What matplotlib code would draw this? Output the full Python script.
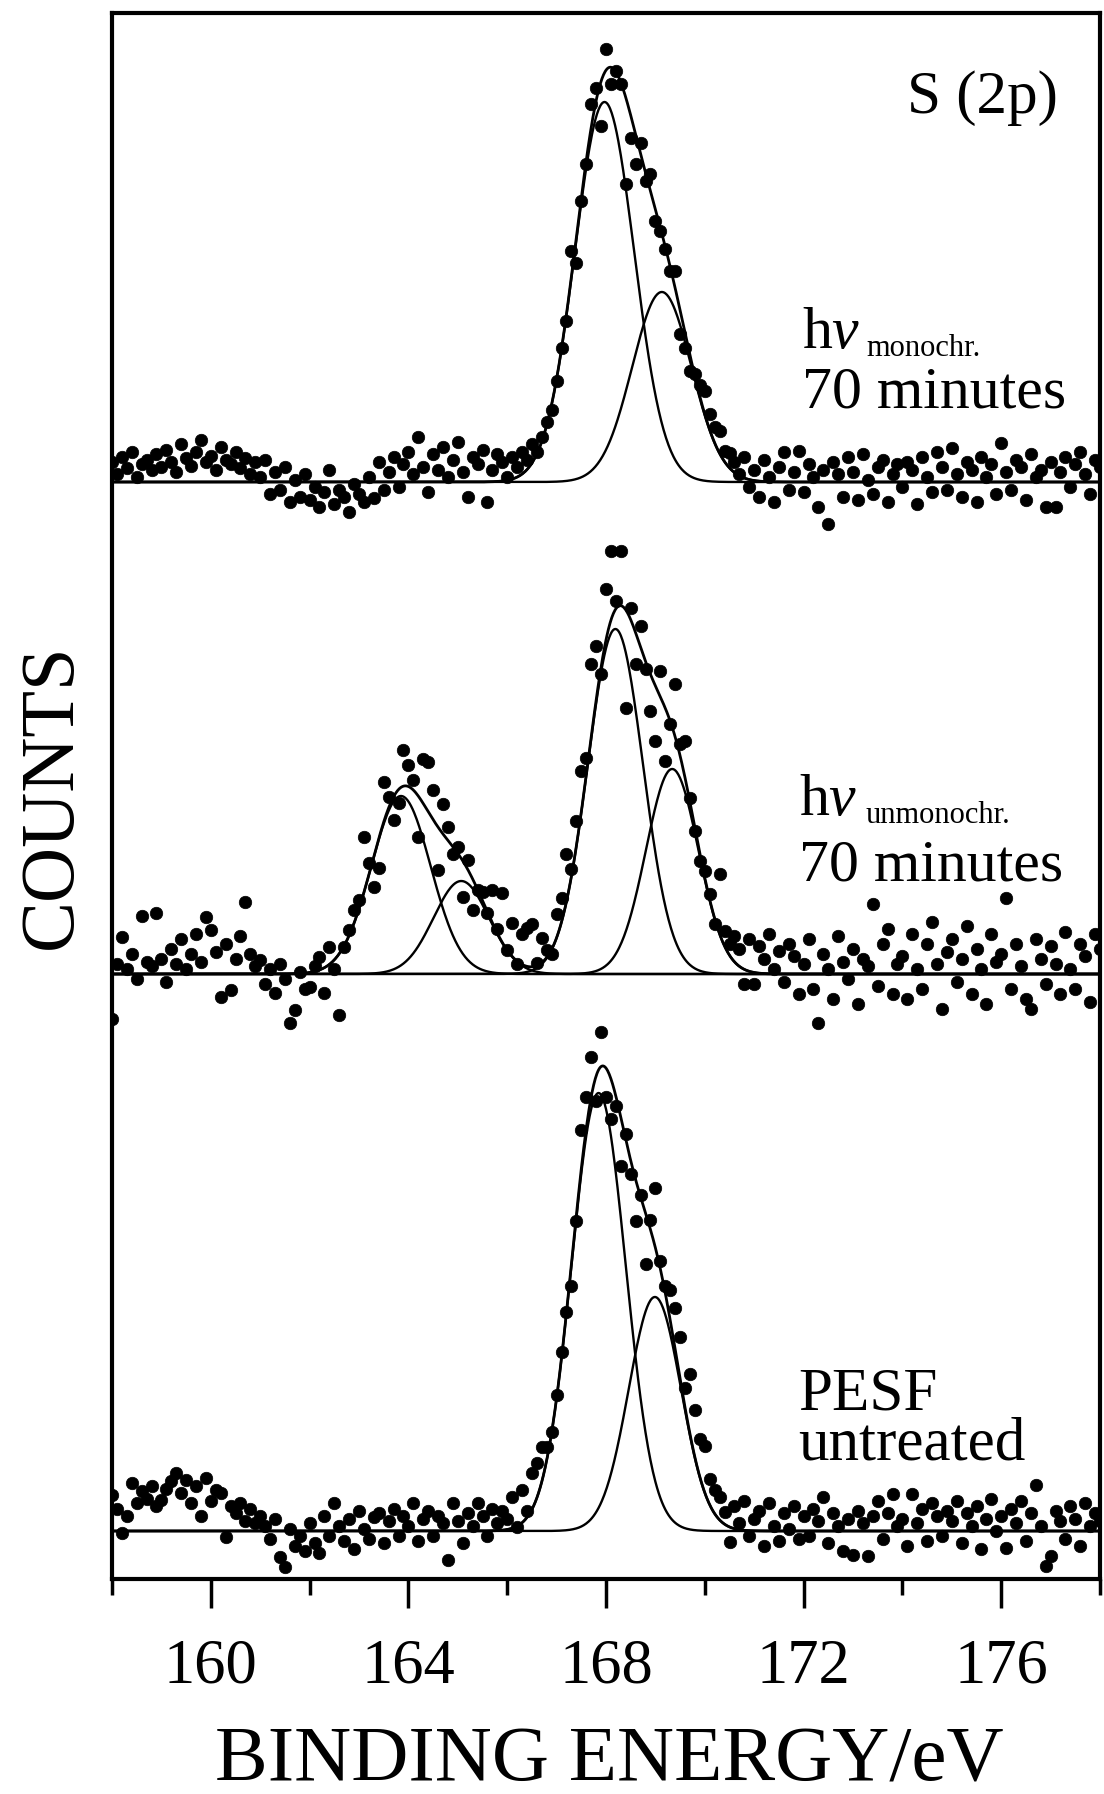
import numpy as np
import matplotlib
matplotlib.use("Agg")
import matplotlib.pyplot as plt
from matplotlib.ticker import MultipleLocator

plt.rcParams['font.family'] = ['Liberation Serif', 'DejaVu Serif']
plt.rcParams['mathtext.fontset'] = 'custom'
plt.rcParams['mathtext.rm'] = 'Liberation Serif'
plt.rcParams['mathtext.it'] = 'Liberation Serif:italic'

# binding energy grid of the scans (eV)
energy = np.linspace(158.0, 178.0, 201)

# counts above each spectrum's own baseline (arbitrary units)
counts_mono = [
    20, 8, 25, 14, 30, 5, 18, 22, 12, 28,
    15, 32, 20, 10, 38, 24, 16, 30, 42, 20,
    26, 12, 35, 22, 18, 30, 14, 24, 8, 20,
    5, 22, -12, 10, -8, 15, -20, 2, -15, 8,
    -18, -5, -25, -10, 12, -22, -8, -15, -30, -2,
    -12, -20, 5, -16, 20, -8, 10, 25, -5, 18,
    30, 8, 45, 15, -10, 28, 12, 35, 5, 22,
    40, 10, -15, 25, 18, 32, -20, 12, 28, 20,
    5, 25, 15, 30, 22, 38, 30, 45, 60, 72,
    101, 134, 161, 231, 219, 281, 318, 378, 394, 356,
    433, 398, 411, 398, 298, 344, 318, 339, 301, 308,
    261, 251, 233, 211, 211, 148, 134, 111, 108, 97,
    91, 68, 55, 51, 31, 29, 20, 8, 25, -5,
    12, -15, 22, 5, -20, 15, 30, -8, 10, 31,
    -10, 18, 5, -25, 12, -42, 20, 8, -15, 25,
    10, -18, 28, 2, -12, 15, 22, -20, 8, 18,
    -5, 20, 12, -22, 25, 5, -10, 30, 15, -8,
    34, 8, -15, 20, 12, -20, 25, 5, 18, -12,
    39, 10, -8, 22, 15, -18, 28, 5, 12, -25,
    20, -25, 10, 25, -5, 18, 30, 8, -12, 22,
    15,
]
counts_unmono = [
    -45, 10, 37, 5, 20, -5, 58, 12, 8, 61,
    15, -8, 25, 10, 35, 5, 20, 40, 12, 57,
    44, 22, -23, 30, -16, 15, 38, 72, 20, 8,
    14, -10, 5, -19, 10, -5, -49, -36, 2, -15,
    -13, 8, 17, -19, 27, 5, -41, 27, 44, 64,
    74, 137, 111, 87, 106, 192, 177, 154, 171, 224,
    209, 194, 137, 215, 212, 184, 104, 170, 147, 120,
    127, 77, 114, 64, 84, 82, 61, 84, 45, 81,
    24, 51, 10, 40, 46, 50, 11, 36, 24, 20,
    60, 76, 120, 105, 153, 203, 216, 310, 328, 300,
    385, 423, 373, 423, 266, 366, 310, 348, 305, 263,
    233, 303, 213, 250, 290, 230, 233, 176, 143, 113,
    103, 80, 50, 100, 43, 30, 38, 25, -10, 35,
    -10, 28, 15, 40, 5, 23, -8, 30, 18, -20,
    10, 35, -15, -49, 20, 5, -25, 38, 12, -5,
    25, -30, 15, 8, 70, -12, 30, 45, -20, 10,
    18, -25, 40, 5, -15, 30, 52, 10, -35, 22,
    35, -8, 15, 48, -20, 25, 5, -30, 40, 12,
    20, 76, -15, 30, 8, -25, -35, 35, 15, -10,
    28, 10, -20, 42, 5, -15, 30, 18, -28, 40,
    25,
]
counts_untreated = [
    36, 22, -2, 15, 48, 28, 40, 32, 45, 25,
    31, 42, 50, 58, 38, 51, 28, 45, 15, 53,
    30, 41, 38, -6, 25, 18, 28, 10, 22, 8,
    15, 5, -8, 12, -26, -36, 2, -15, -5, -20,
    8, -12, -22, 15, -5, 28, 5, -10, 12, -18,
    20, 2, -8, 14, 18, -12, 10, 22, -5, 15,
    5, 28, -10, 12, 20, -5, 15, 8, -29, 28,
    10, -12, 18, 5, 28, 15, -5, 22, 8, 20,
    12, 34, 4, 41, 20, 58, 68, 84, 84, 99,
    136, 179, 219, 245, 310, 401, 434, 474, 430, 499,
    434, 412, 425, 365, 397, 357, 310, 336, 267, 311,
    343, 270, 245, 241, 223, 194, 143, 157, 121, 92,
    85, 52, 41, 34, 19, -11, 25, 8, 30, -5,
    12, 20, -15, 28, 5, -10, 18, 2, 25, -8,
    15, -5, 22, 10, 34, -12, 18, 5, -20, 12,
    -24, 20, 8, -25, 15, 30, -8, 18, 37, 5,
    12, -15, 37, 8, 22, -10, 28, 15, -5, 20,
    10, 30, -12, 18, 5, 25, -18, 12, 32, 0,
    15, -17, 22, 8, 30, -10, 18, 46, 5, -35,
    -25, 20, 10, -8, 25, 12, -15, 28, 5, 18,
    10,
]

# fitted gaussian components: (height, centre eV, sigma eV)
peaks_mono = [(380, 167.97, 0.60), (190, 169.13, 0.60)]
peaks_unmono = [(178, 163.85, 0.60), (93, 165.07, 0.56),
                (345, 168.19, 0.56), (205, 169.34, 0.53)]
peaks_untreated = [(438, 167.85, 0.55), (234, 168.99, 0.53)]

spectra = [counts_mono, counts_unmono, counts_untreated]
fits = [peaks_mono, peaks_unmono, peaks_untreated]
offsets = [1097, 605, 48]   # vertical stacking of the three spectra

W, H = 1104, 1794
fig = plt.figure(figsize=(W / 100, H / 100), dpi=100)
ax = fig.add_axes([112 / W, 1 - 1579 / H, 988 / W, 1566 / H])


def gauss(x, a, c, s):
    return a * np.exp(-(x - c) ** 2 / (2 * s * s))


fine = np.linspace(158, 178, 1201)
for counts, peaks, off in zip(spectra, fits, offsets):
    ax.plot(energy, np.array(counts) + off, 'o', color='black', ms=9, mec='black', mew=0.5)
    total = np.zeros_like(fine)
    for a, c, s in peaks:
        comp = gauss(fine, a, c, s)
        total += comp
        ax.plot(fine, comp + off, color='black', lw=1.7)
    ax.plot(fine, total + off, color='black', lw=2.0)

ax.set_xlim(158, 178)
ax.set_ylim(0, 1566)
ax.set_yticks([])

for sp in ax.spines.values():
    sp.set_linewidth(3)

ax.xaxis.set_major_locator(MultipleLocator(4))
ax.xaxis.set_minor_locator(MultipleLocator(2))
ax.tick_params(axis='x', which='major', direction='out', length=21, width=2.5,
               pad=22, labelsize=45)
ax.tick_params(axis='x', which='minor', direction='out', length=11.5, width=2.5)

ax.set_xlabel('BINDING ENERGY/eV', fontsize=57)
ax.xaxis.set_label_coords(0.5035, -0.1284)
ax.xaxis.label.set_va('baseline')

ax.set_ylabel('COUNTS', fontsize=55)
ax.yaxis.set_label_coords(-0.0415, 0.5)
ax.yaxis.label.set_va('baseline')


def ftext(x, y, s, size):
    fig.text(x / W, 1 - y / H, s, fontsize=size, ha='left', va='baseline')


ftext(907, 113, 'S (2p)', 44)
ftext(802, 348, r'h$\nu$', 43)
ftext(866, 356, 'monochr.', 22)
ftext(802, 408, '70 minutes', 43)
ftext(799, 815, r'h$\nu$', 43)
ftext(866, 823, 'unmonochr.', 22)
ftext(799, 880, '70 minutes', 43)
ftext(798, 1409, 'PESF', 44)
ftext(798, 1459, 'untreated', 44)

fig.savefig('out.png', dpi=100)
